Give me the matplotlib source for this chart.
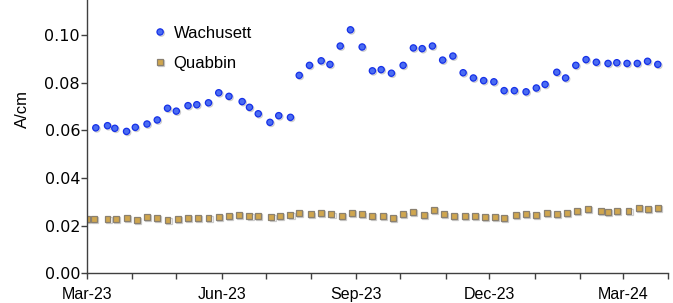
import numpy as np
import pandas as pd
import matplotlib
matplotlib.use('Agg')
import matplotlib.pyplot as plt
import matplotlib.dates as mdates
import matplotlib.patheffects as pe

# ── DATA ──────────────────────────────────────────────────
wach_dates = ['2023-03-07', '2023-03-15', '2023-03-20', '2023-03-28', '2023-04-03',
              '2023-04-11', '2023-04-18', '2023-04-25', '2023-05-01', '2023-05-09',
              '2023-05-15', '2023-05-23', '2023-05-30', '2023-06-06', '2023-06-15',
              '2023-06-20', '2023-06-26', '2023-07-04', '2023-07-10', '2023-07-18',
              '2023-07-24', '2023-07-31', '2023-08-08', '2023-08-14', '2023-08-21',
              '2023-08-28', '2023-09-05', '2023-09-12', '2023-09-18', '2023-09-25',
              '2023-10-03', '2023-10-10', '2023-10-16', '2023-10-23', '2023-10-30',
              '2023-11-06', '2023-11-13', '2023-11-20', '2023-11-27', '2023-12-04',
              '2023-12-11', '2023-12-18', '2023-12-26', '2024-01-02', '2024-01-08',
              '2024-01-16', '2024-01-22', '2024-01-29', '2024-02-05', '2024-02-12',
              '2024-02-20', '2024-02-26', '2024-03-04', '2024-03-11', '2024-03-18',
              '2024-03-25']
wach_vals = [0.0610, 0.0619, 0.0608, 0.0595, 0.0612, 0.0626, 0.0643, 0.0692, 0.0680, 0.0703,
             0.0707, 0.0715, 0.0757, 0.0742, 0.0720, 0.0696, 0.0669, 0.0633, 0.0661, 0.0654,
             0.0830, 0.0872, 0.0891, 0.0876, 0.0953, 0.1021, 0.0949, 0.0849, 0.0854, 0.0839,
             0.0872, 0.0945, 0.0942, 0.0953, 0.0894, 0.0911, 0.0841, 0.0819, 0.0808, 0.0803,
             0.0766, 0.0766, 0.0761, 0.0777, 0.0792, 0.0843, 0.0819, 0.0872, 0.0896, 0.0885,
             0.0880, 0.0883, 0.0880, 0.0880, 0.0889, 0.0876]

quab_dates = ['2023-03-01', '2023-03-06', '2023-03-15', '2023-03-21', '2023-03-28',
              '2023-04-04', '2023-04-11', '2023-04-18', '2023-04-25', '2023-05-02',
              '2023-05-09', '2023-05-16', '2023-05-23', '2023-05-30', '2023-06-06',
              '2023-06-13', '2023-06-20', '2023-06-26', '2023-07-05', '2023-07-11',
              '2023-07-18', '2023-07-24', '2023-08-01', '2023-08-08', '2023-08-15',
              '2023-08-22', '2023-08-29', '2023-09-05', '2023-09-12', '2023-09-19',
              '2023-09-26', '2023-10-03', '2023-10-10', '2023-10-17', '2023-10-24',
              '2023-10-31', '2023-11-07', '2023-11-14', '2023-11-21', '2023-11-28',
              '2023-12-05', '2023-12-11', '2023-12-19', '2023-12-26', '2024-01-02',
              '2024-01-09', '2024-01-16', '2024-01-23', '2024-01-30', '2024-02-06',
              '2024-02-15', '2024-02-20', '2024-02-26', '2024-03-05', '2024-03-12',
              '2024-03-18', '2024-03-25']
quab_vals = [0.0228, 0.0228, 0.0228, 0.0228, 0.0232, 0.0223, 0.0236, 0.0232, 0.0225, 0.0228,
             0.0232, 0.0232, 0.0232, 0.0236, 0.0239, 0.0243, 0.0239, 0.0239, 0.0236, 0.0239,
             0.0243, 0.0252, 0.0247, 0.0252, 0.0247, 0.0239, 0.0252, 0.0247, 0.0239, 0.0239,
             0.0232, 0.0247, 0.0256, 0.0243, 0.0267, 0.0247, 0.0239, 0.0239, 0.0239, 0.0236,
             0.0236, 0.0232, 0.0243, 0.0247, 0.0243, 0.0252, 0.0247, 0.0252, 0.0262, 0.0271,
             0.0262, 0.0256, 0.0262, 0.0262, 0.0274, 0.0270, 0.0274]

y_ticks = [0.00, 0.02, 0.04, 0.06, 0.08, 0.10]

# ── PLOT ──────────────────────────────────────────────────
plt.rcParams['font.family'] = ['Liberation Sans', 'DejaVu Sans']
AXIS_COLOR = '#404040'
shadow = [pe.SimpleLineShadow(offset=(0.8, -0.8), shadow_color='#999999', alpha=0.5), pe.Normal()]

fig = plt.figure(figsize=(6.73, 3.03), dpi=100)
ax = fig.add_axes([0.1293, 0.098, 0.8633, 0.902])

ax.plot(pd.to_datetime(wach_dates), wach_vals, linestyle='none', marker='o', markersize=4.5,
        markerfacecolor='#4a6cf2', markeredgecolor='#1530e8', markeredgewidth=0.9,
        label='Wachusett', path_effects=shadow)
ax.plot(pd.to_datetime(quab_dates), quab_vals, linestyle='none', marker='s', markersize=4.3,
        markerfacecolor='#d0a64e', markeredgecolor='#8a8070', markeredgewidth=0.9,
        label='Quabbin', path_effects=shadow)

ax.set_xlim(pd.Timestamp('2023-03-01'), pd.Timestamp('2024-04-01'))
ax.set_ylim(0, 0.1146)
ax.set_yticks(y_ticks)
ax.yaxis.set_major_formatter(matplotlib.ticker.FormatStrFormatter('%.2f'))
ax.xaxis.set_major_locator(mdates.MonthLocator(bymonth=[3, 6, 9, 12]))
ax.xaxis.set_minor_locator(mdates.MonthLocator())
ax.xaxis.set_major_formatter(mdates.DateFormatter('%b-%y'))

for s in ['top', 'right']:
    ax.spines[s].set_visible(False)
for s in ['left', 'bottom']:
    ax.spines[s].set_color(AXIS_COLOR)
    ax.spines[s].set_linewidth(1.0)

ax.tick_params(axis='both', which='both', direction='out', length=4, width=1, color=AXIS_COLOR)
ax.tick_params(axis='x', which='major', labelsize=11.5, pad=5.5)
ax.tick_params(axis='y', which='major', labelsize=11.5, pad=1)
for lbl in ax.get_yticklabels():
    lbl.set_fontfamily('DejaVu Sans')

ax.set_ylabel('A/cm', fontsize=12)
ax.yaxis.set_label_coords(-0.099, 0.60)

ax.legend(loc='upper left', bbox_to_anchor=(0.1, 0.93), frameon=False, fontsize=12,
          handletextpad=0.3, labelspacing=0.9, handlelength=1.0, borderaxespad=0)

plt.savefig('out.png', dpi=100)
